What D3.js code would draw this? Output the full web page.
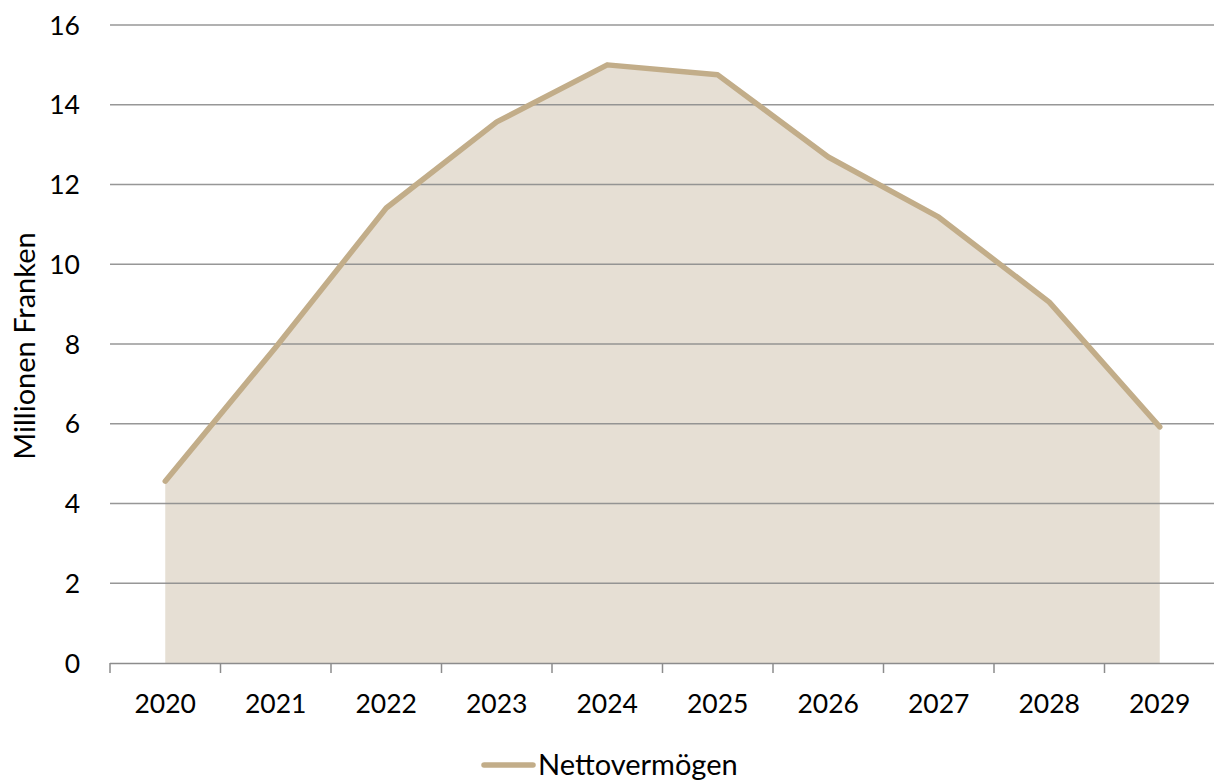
<!DOCTYPE html>
<html><head><meta charset="utf-8">
<script src="https://cdn.jsdelivr.net/npm/d3@7"></script>
<style>body{margin:0;background:#fff}svg{display:block}text{font-family:Lato,"Open Sans",sans-serif;fill:#000}</style>
</head><body><svg id="c" width="1214" height="780"></svg>
<script>
const years = ["2020","2021","2022","2023","2024","2025","2026","2027","2028","2029"];
const netWorth = [4.56, 7.92, 11.41, 13.57, 15.0, 14.75, 12.69, 11.18, 9.05, 5.92];
const yTicks = [0,2,4,6,8,10,12,14,16];
const seriesName = "Nettovermögen";
const yTitle = "Millionen Franken";

const svg = d3.select("#c");
const x = d3.scaleBand().domain(years).range([110, 1215]);
const y = d3.scaleLinear().domain([0,16]).range([663, 25]);
const cx = d => x(d) + x.bandwidth()/2;
const data = years.map((yr,i)=>({yr, v: netWorth[i]}));

svg.append("path").datum(data)
  .attr("d", d3.area().x(d=>cx(d.yr)).y0(y(0)).y1(d=>y(d.v)))
  .attr("fill","#E6DFD4");

svg.append("g").selectAll("line").data(yTicks.filter(t=>t>0)).join("line")
  .attr("x1",110).attr("x2",1214).attr("y1",d=>y(d)).attr("y2",d=>y(d))
  .attr("stroke","#8c8c8c").attr("stroke-width",1.5).attr("opacity",0.9);

svg.append("g").selectAll("text").data(yTicks).join("text")
  .attr("x",80).attr("y",d=>y(d)+9.5).attr("text-anchor","end")
  .attr("font-size",26.5).text(d=>d);

svg.append("line").attr("x1",110).attr("x2",1214).attr("y1",663.5).attr("y2",663.5)
  .attr("stroke","#8c8c8c").attr("stroke-width",1.5);
svg.append("g").selectAll("line").data(years).join("line")
  .attr("x1",d=>x(d)).attr("x2",d=>x(d)).attr("y1",663).attr("y2",673)
  .attr("stroke","#8c8c8c").attr("stroke-width",1.5);
svg.append("g").selectAll("text").data(years).join("text")
  .attr("x",d=>cx(d)).attr("y",713).attr("text-anchor","middle")
  .attr("font-size",26.5).text(d=>d);

svg.append("path").datum(data)
  .attr("d", d3.line().x(d=>cx(d.yr)).y(d=>y(d.v)))
  .attr("fill","none").attr("stroke","#C2AD89").attr("stroke-width",5.5)
  .attr("stroke-linejoin","round").attr("stroke-linecap","round");

svg.append("text").attr("transform","translate(35,346) rotate(-90)")
  .attr("text-anchor","middle").attr("font-size",29).text(yTitle);

svg.append("line").attr("x1",484).attr("x2",533).attr("y1",765).attr("y2",765)
  .attr("stroke","#C2AD89").attr("stroke-width",5.5).attr("stroke-linecap","round");
svg.append("text").attr("x",538).attr("y",775).attr("font-size",29).text(seriesName);
</script></body></html>
